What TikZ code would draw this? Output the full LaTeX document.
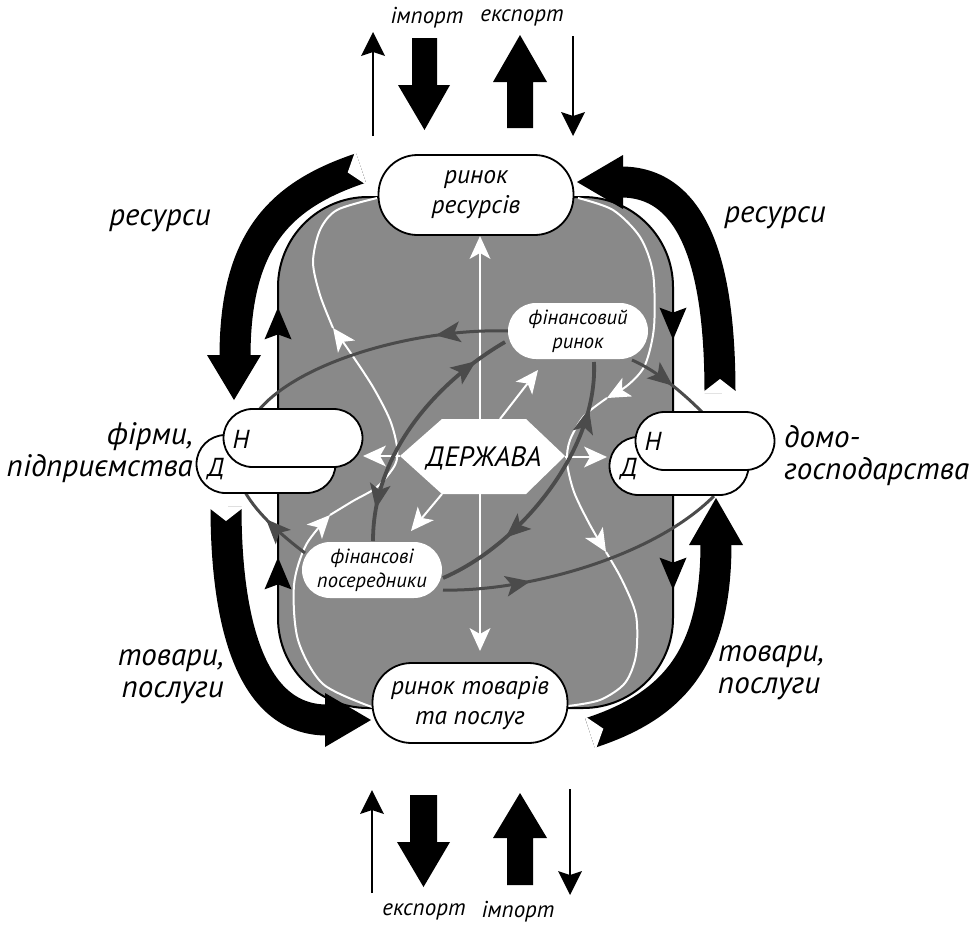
\documentclass[tikz,border=0pt]{standalone}
\usepackage{fontspec}
\setmainfont{PT Sans}
\usetikzlibrary{arrows.meta,decorations.markings,calc}
\definecolor{fillgray}{RGB}{137,137,137}
\definecolor{linegray}{RGB}{75,75,75}
\tikzset{
  wtip/.tip={Stealth[length=23pt,width=21pt,inset=6pt,line width=0pt,color=white]},
  gtip/.tip={Stealth[length=25pt,width=21pt,inset=6pt,line width=0pt,color=linegray]},
  btip/.tip={Stealth[length=32pt,width=27pt,inset=5pt,line width=0pt,color=black]},
  ttip/.tip={Stealth[length=24pt,width=24pt,inset=4pt,line width=0pt,color=black]},
  markf/.style 2 args={postaction={decorate,decoration={markings,mark=at position #1 with {\arrow{#2}}}}},
  markr/.style 2 args={postaction={decorate,decoration={markings,mark=at position #1 with {\arrowreversed{#2}}}}},
  lbl/.style={font=\fontsize{31}{32}\selectfont\itshape, inner sep=0pt},
  small/.style={font=\fontsize{23}{26}\selectfont\itshape, inner sep=0pt},
  mkt/.style={draw, line width=1.8pt, fill=white, rounded corners=39pt, minimum width=195pt, minimum height=80pt, inner sep=0pt, align=center, font=\fontsize{25.5}{30}\selectfont\itshape},
  finbox/.style={fill=white, rounded corners=28pt, minimum width=140pt, minimum height=56pt, inner sep=0pt, align=center, font=\fontsize{20.5}{24}\selectfont\itshape},
  agent/.style={draw, line width=1.8pt, fill=white, rounded corners=29pt, minimum width=139pt, minimum height=58pt, inner sep=0pt},
  hd/.style={font=\fontsize{26}{28}\selectfont\itshape, inner sep=0pt},
  band/.style={line width=31pt, line cap=butt},
  wline/.style={white, line width=2pt},
  gline/.style={linegray, line width=3pt},
  gline2/.style={linegray, line width=3.8pt},
  bline/.style={black, line width=2pt},
  tline/.style={black, line width=2pt},
}
\begin{document}
\begin{tikzpicture}[x=1pt,y=-1pt]
\useasboundingbox (0,0) rectangle (974,926);

% gray field
\fill[fillgray, rounded corners=90pt] (278,197) rectangle (673,708);

% black border flows
\draw[bline, rounded corners=90pt, markf={206pt}{btip}, markf={456pt}{btip}]
  (372,708) -- (278,708) -- (278,197) -- (378,197);
\draw[bline, rounded corners=90pt, markf={204pt}{btip}, markf={454pt}{btip}]
  (573,197) -- (673,197) -- (673,708) -- (568,708);

% white state flows
\draw[wline,-{wtip}] (480,419) -- (480,236);
\draw[wline,-{wtip}] (480,494) -- (480,651);
\draw[wline,-{wtip}] (400,456) -- (363,456);
\draw[wline,-{wtip}] (565,457) -- (607,457);
\draw[wline,-{wtip}] (500,419) -- (538,370);
\draw[wline,-{wtip}] (442,494) -- (411,531);

% white S curves
\draw[wline,-{wtip}] plot[smooth] coordinates {(372,707) (323,684) (298,640) (294,585) (306,545) (330,515)};
\draw[wline,-{wtip}] plot[smooth] coordinates {(330,515) (353,501) (377,487) (395,465) (397,447) (390,420) (373,387) (350,352) (333,328)};
\draw[wline] plot[smooth] coordinates {(333,328) (320,295) (313,262) (320,230) (337,210) (377,198)};
\draw[wline,-{wtip}] plot[smooth] coordinates {(578,198) (613,210) (640,237) (653,273) (654,327) (645,365) (628,385) (607,398)};
\draw[wline,-{wtip}] plot[smooth] coordinates {(607,398) (584,416) (570,440) (567,462) (574,492) (590,525) (606,552)};
\draw[wline] plot[smooth] coordinates {(606,552) (622,580) (636,615) (636,655) (625,683) (600,700) (568,706)};

% financial flows
\draw[gline, markf={0.27}{gtip}] (508,331) .. controls (420,328) and (300,360) .. (258,411);
\draw[gline, markf={0.6}{gtip}] (305,553) .. controls (285,538) and (258,515) .. (245,492);
\draw[gline, markf={0.55}{gtip}] (632,360) .. controls (655,370) and (680,390) .. (702,412);
\draw[gline, markf={0.3}{gtip}] (443,590) .. controls (520,592) and (650,560) .. (714,496);
\draw[gline2, markr={0.14}{gtip}, markf={0.87}{gtip}] (505,342) .. controls (440,380) and (373,450) .. (373,541);
\draw[gline2, markr={0.17}{gtip}, markf={0.73}{gtip}] (594,362) .. controls (598,450) and (520,545) .. (443,578);

% state
\fill[white] (400,456) -- (442,419) -- (526,419) -- (565,456) -- (526,494) -- (442,494) -- cycle;
\node[font=\fontsize{28}{30}\selectfont\itshape, inner sep=0pt] (gov) at (484,458) {ДЕРЖАВА};

% nodes
\node[mkt] (res) at (476,195) {ринок\\ресурсів};
\node[mkt] (goods) at (470,703) {ринок товарів\\та послуг};
\node[finbox] (fm) at (578,331) {фінансовий\\ринок};
\node[finbox] (fi) at (372,570) {фінансові\\посередники};
\node[agent] (fD) at (266,464) {};
\node[agent] (fH) at (293,438) {};
\node[agent] (hD) at (679,466) {};
\node[agent] (hH) at (705,441) {};
\node[hd] (fHl) at (241,439) {Н};
\node[hd] (fDl) at (216,469) {Д};
\node[hd] (hHl) at (653,441) {Н};
\node[hd] (hDl) at (629,469) {Д};

% big flows
\coordinate (A0) at (361,168); \coordinate (A1) at (280,195);
\draw[band] (A0) .. controls (A1) and (235,240) .. (235,357);
\fill (207,355) -- (261,355) -- (234,400) -- cycle;
\fill[white] ($(A0)!18pt!90:(A1)$) -- ($(A0)!14pt!(A1)$) -- ($(A0)!18pt!-90:(A1)$) -- cycle;

\coordinate (B0) at (720,393); \coordinate (B1) at (720,280);
\draw[band] (B0) .. controls (B1) and (700,182) .. (621,182);
\fill (623,155) -- (623,209) -- (577,182) -- cycle;
\fill[white] ($(B0)!18pt!90:(B1)$) -- ($(B0)!14pt!(B1)$) -- ($(B0)!18pt!-90:(B1)$) -- cycle;

\coordinate (C0) at (226,507); \coordinate (C1) at (226,620);
\draw[band] (C0) .. controls (C1) and (250,720) .. (327,720);
\fill (325,693) -- (325,747) -- (371,720) -- cycle;
\fill[white] ($(C0)!18pt!90:(C1)$) -- ($(C0)!14pt!(C1)$) -- ($(C0)!18pt!-90:(C1)$) -- cycle;

\coordinate (D0) at (590,733); \coordinate (D1) at (676,705);
\draw[band] (D0) .. controls (D1) and (716,655) .. (716,543);
\fill (689,545) -- (743,545) -- (716,498) -- cycle;
\fill[white] ($(D0)!18pt!90:(D1)$) -- ($(D0)!14pt!(D1)$) -- ($(D0)!18pt!-90:(D1)$) -- cycle;

% labels
\node[lbl] (lres) at (160,221) {ресурси};
\node[lbl] (rres) at (775,218) {ресурси};
\node[lbl, anchor=east, align=right] (firms) at (193,453) {фірми,\\підприємства};
\node[lbl, anchor=west, align=left] (hh) at (784,456) {домо-\\господарства};
\node[lbl, anchor=east, align=right] (lgoods) at (224,677) {товари,\\послуги};
\node[lbl, anchor=west, align=left] (rgoods) at (718,673) {товари,\\послуги};

% import / export
\node[small] (ti) at (427,18) {імпорт};
\node[small] (te) at (522,18) {експорт};
\node[small] (be) at (424,912) {експорт};
\node[small] (bi) at (518,912) {імпорт};
\draw[tline,-{ttip}] (373,136) -- (373,32);
\fill (412,38) -- (437,38) -- (437,85) -- (450,85) -- (424.5,130) -- (398,85) -- (412,85) -- cycle;
\fill (520,35) -- (547,82) -- (533,82) -- (533,128) -- (507,128) -- (507,82) -- (493,82) -- cycle;
\draw[tline,-{ttip}] (573,36) -- (573,136);
\draw[tline,-{ttip}] (372,893) -- (372,790);
\fill (410,795) -- (437,795) -- (437,842) -- (450,842) -- (423.5,887) -- (397,842) -- (410,842) -- cycle;
\fill (520,793) -- (547,838) -- (533,838) -- (533,885) -- (507,885) -- (507,838) -- (493,838) -- cycle;
\draw[tline,-{ttip}] (570,789) -- (570,895);
\end{tikzpicture}
\end{document}
